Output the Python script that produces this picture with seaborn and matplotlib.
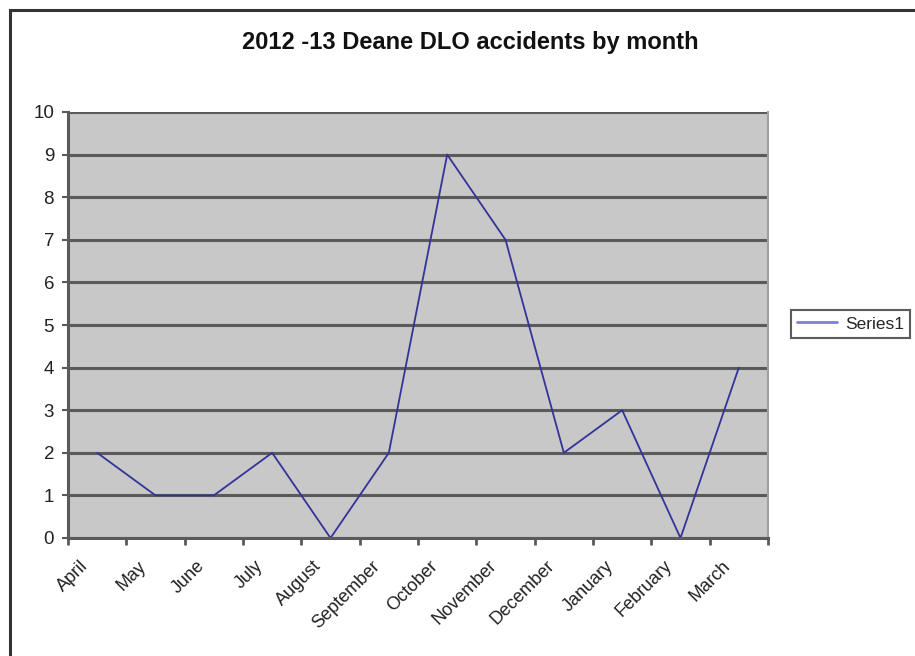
import matplotlib
matplotlib.use('Agg')
import matplotlib.pyplot as plt
import seaborn as sns
from matplotlib.patches import Rectangle

# data
months = ['April', 'May', 'June', 'July', 'August', 'September', 'October',
          'November', 'December', 'January', 'February', 'March']
accidents = [2, 1, 1, 2, 0, 2, 9, 7, 2, 3, 0, 4]
y_ticks = list(range(0, 11))

sns.set_style('white')
plt.rcParams['font.family'] = ['Liberation Sans', 'DejaVu Sans']

fig = plt.figure(figsize=(9.15, 6.56), dpi=100)
ax = fig.add_axes([68 / 915, 1 - 538 / 656, 700 / 915, 426 / 656])
ax.set_facecolor('#c8c8c8')

x = list(range(len(months)))
sns.lineplot(x=x, y=accidents, ax=ax, color='#333399', linewidth=1.3,
             label='Series1', legend=False)

ax.set_xlim(-0.5, len(months) - 0.5)
ax.set_ylim(0, 10)
ax.set_yticks(y_ticks)
ax.set_yticklabels([str(t) for t in y_ticks], fontsize=13.5, color='#222222')
ax.yaxis.grid(True, color='#5a5a5a', linewidth=2.2)
ax.set_axisbelow(True)

# category labels (rotated, ending a little left of the centre),
# tick marks on the category boundaries
ax.set_xticks([i - 0.3 for i in x])
ax.set_xticklabels(months, rotation=45, ha='right', rotation_mode='anchor',
                   fontsize=13, color='#222222')
ax.set_xticks([i - 0.5 for i in range(len(months) + 1)], minor=True)
ax.tick_params(axis='x', which='major', length=0, pad=14)
ax.tick_params(axis='x', which='minor', length=5, width=2, color='#5a5a5a',
               direction='out', bottom=True)
ax.tick_params(axis='y', length=4, width=1.5, color='#5a5a5a', left=True,
               direction='out', pad=6)

for side in ['left', 'bottom']:
    ax.spines[side].set_color('#5a5a5a')
    ax.spines[side].set_linewidth(2.2)
ax.spines['top'].set_visible(False)
ax.spines['right'].set_color('#a0a0a0')
ax.spines['right'].set_linewidth(1.5)

fig.text(470 / 915, 1 - 42 / 656, '2012 -13 Deane DLO accidents by month',
         ha='center', va='center', fontsize=17, fontweight='bold',
         color='#111111')

leg = fig.legend(loc='center left', bbox_to_anchor=(782 / 915, 1 - 324 / 656),
                 frameon=True, fancybox=False, fontsize=12.5,
                 handlelength=2.3, borderpad=0.35, handletextpad=0.5)
leg.get_frame().set_edgecolor('#333333')
leg.get_frame().set_linewidth(1.5)
leg.get_lines()[0].set_color('#8080d8')
leg.get_lines()[0].set_linewidth(2)

# outer chart frame, cut off at right and bottom
fig.add_artist(Rectangle((10 / 915, -0.1), 1.2, 1.1 - 10 / 656,
                         transform=fig.transFigure, fill=False,
                         edgecolor='#333333', linewidth=2.2))

fig.savefig('out.png', dpi=100)
